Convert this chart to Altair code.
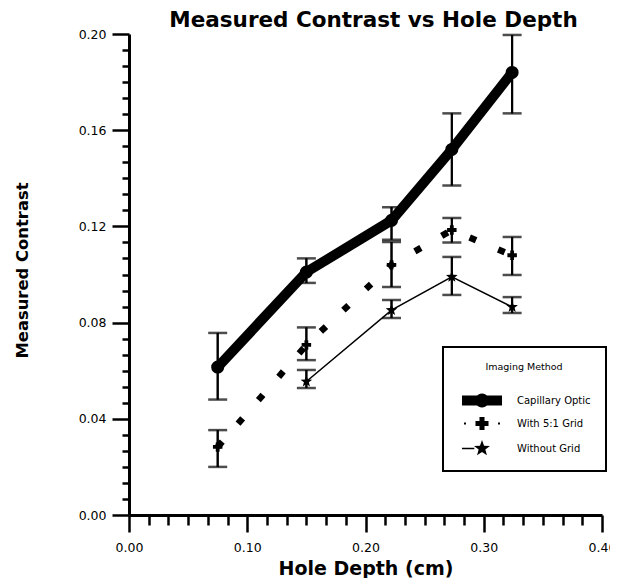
import math
import altair as alt
import pandas as pd

# ---- data ----
series_names = ["Capillary Optic", "With 5:1 Grid", "Without Grid"]

cap_depth = [0.075, 0.150, 0.222, 0.273, 0.324]
cap_mean = [0.0615, 0.1010, 0.1225, 0.1520, 0.1840]
cap_lo = [0.0480, 0.0965, 0.1145, 0.1370, 0.1670]
cap_hi = [0.0757, 0.1067, 0.1280, 0.1670, 0.1996]

grid_depth = [0.075, 0.150, 0.222, 0.273, 0.324]
grid_mean = [0.0283, 0.0707, 0.1040, 0.1185, 0.1080]
grid_lo = [0.0200, 0.0644, 0.0948, 0.1133, 0.0998]
grid_hi = [0.0353, 0.0780, 0.1135, 0.1235, 0.1156]

nogrid_depth = [0.150, 0.222, 0.273, 0.324]
nogrid_mean = [0.0555, 0.0852, 0.0990, 0.0865]
nogrid_lo = [0.0528, 0.0819, 0.0915, 0.0840]
nogrid_hi = [0.0603, 0.0894, 0.1073, 0.0906]

x_major_ticks = [0.0, 0.1, 0.2, 0.3, 0.4]
x_minor_ticks = [round(i / 60, 6) for i in range(25) if i % 6]
y_major_ticks = [0.0, 0.04, 0.08, 0.12, 0.16, 0.20]
y_minor_ticks = [round(i * 0.04 / 6, 6) for i in range(31) if i % 6]

def frame(name, d, m, lo, hi):
    return pd.DataFrame({"series": name, "depth": d, "mean": m, "lo": lo, "hi": hi})

df = pd.concat([
    frame(series_names[0], cap_depth, cap_mean, cap_lo, cap_hi),
    frame(series_names[1], grid_depth, grid_mean, grid_lo, grid_hi),
    frame(series_names[2], nogrid_depth, nogrid_mean, nogrid_lo, nogrid_hi),
], ignore_index=True)

caps = pd.concat([
    df[["series", "depth"]].assign(v=df["lo"]),
    df[["series", "depth"]].assign(v=df["hi"]),
], ignore_index=True)

# ---- symbol paths (legend unit = 7 px) ----
def num(v):
    s = f"{v:.3f}".rstrip("0").rstrip(".")
    return "0" if s in ("-0", "") else s

def poly(pts):
    return "M" + "L".join(f"{num(x)} {num(y)}" for x, y in pts)

def rect(x0, y0, x1, y1):
    return poly([(x0, y0), (x1, y0), (x1, y1), (x0, y1), (x0, y0)])

def circle(r, n=24):
    return poly([(r * math.cos(2 * math.pi * k / n), r * math.sin(2 * math.pi * k / n)) for k in range(n + 1)])

def star(R, ri):
    pts = []
    for k in range(11):
        ang = -math.pi / 2 + k * math.pi / 5
        rad = R if k % 2 == 0 else ri
        pts.append((rad * math.cos(ang), rad * math.sin(ang)))
    return poly(pts)

def plus(a, t):
    return poly([(-t, -a), (t, -a), (t, -t), (a, -t), (a, t), (t, t), (t, a), (-t, a),
                 (-t, t), (-a, t), (-a, -t), (-t, -t), (-t, -a)])

cap_path = rect(-2.86, -0.71, 2.86, 0.71) + circle(1.0)
grid_path = plus(0.93, 0.36) + rect(-2.57, -0.14, -2.29, 0.14) + rect(2.29, -0.14, 2.57, 0.14)
nogrid_path = rect(-2.86, -0.1, -1.1, 0.1) + star(1.2, 0.5)
star_marker = star(1.0, 0.42)

FONT = "DejaVu Sans"

x_scale = alt.Scale(domain=[0, 0.4], nice=False, zero=False)
y_scale = alt.Scale(domain=[0, 0.2], nice=False, zero=False)

x_axis = alt.Axis(
    orient="bottom", values=x_major_ticks, format=".2f",
    tickSize=17, tickWidth=2.5, tickColor="black", domainWidth=3, domainColor="black",
    labelFont=FONT, labelFontSize=12.5, labelColor="black", labelPadding=9,
    labelOverlap=False, labelFlush=False, grid=False,
    title="Hole Depth (cm)", titleFont=FONT, titleFontSize=19, titleFontWeight="bold",
    titleColor="black", titleBaseline="alphabetic", titleY=59,
)
y_axis = alt.Axis(
    orient="left", values=y_major_ticks, format=".2f",
    tickSize=17, tickWidth=2.5, tickColor="black", domainWidth=3, domainColor="black",
    labelFont=FONT, labelFontSize=12.5, labelColor="black", labelPadding=6,
    labelOverlap=False, labelFlush=False, grid=False,
    title="Measured Contrast", titleFont=FONT, titleFontSize=16.4, titleFontWeight="bold",
    titleColor="black", titleBaseline="alphabetic", titleX=-102, titleY=236, titleAngle=270,
)
x_minor_axis = alt.Axis(
    orient="bottom", values=x_minor_ticks, tickSize=10, tickWidth=2.5, tickColor="black",
    labels=False, domain=False, grid=False, title=None,
)
y_minor_axis = alt.Axis(
    orient="left", values=y_minor_ticks, tickSize=7, tickWidth=2.5, tickColor="black",
    labels=False, domain=False, grid=False, title=None,
)

base = alt.Chart(df)

rules = base.mark_rule(color="black", strokeWidth=2).encode(
    x=alt.X("depth:Q", scale=x_scale, axis=x_axis),
    y=alt.Y("lo:Q", scale=y_scale, axis=y_axis),
    y2="hi:Q",
)
minor = base.mark_rule(color="black", strokeWidth=2).encode(
    x=alt.X("depth:Q", scale=x_scale, axis=x_minor_axis),
    y=alt.Y("lo:Q", scale=y_scale, axis=y_minor_axis),
    y2="hi:Q",
)
cap_ticks = alt.Chart(caps).mark_tick(color="black", orient="horizontal", size=19, thickness=2.5).encode(
    x=alt.X("depth:Q", axis=None), y=alt.Y("v:Q", axis=None)
)

def series_line(name, **kw):
    return base.transform_filter(alt.datum.series == name).mark_line(color="black", **kw).encode(
        x=alt.X("depth:Q", axis=None), y=alt.Y("mean:Q", axis=None)
    )

def series_pts(name, shape, size):
    return base.transform_filter(alt.datum.series == name).mark_point(
        shape=shape, size=size, filled=True, color="black", opacity=1
    ).encode(x=alt.X("depth:Q", axis=None), y=alt.Y("mean:Q", axis=None))

line_cap = series_line(series_names[0], strokeWidth=10, strokeJoin="round", strokeCap="round")
line_grid = series_line(series_names[1], strokeWidth=6.5, strokeDash=[7, 24], strokeCap="butt")
line_nogrid = series_line(series_names[2], strokeWidth=1.5)

pts_cap = series_pts(series_names[0], "circle", 170)
pts_grid = series_pts(series_names[1], "cross", 90)
pts_nogrid = series_pts(series_names[2], star_marker, 150)

legend_layer = base.mark_point(filled=True, opacity=0, color="black", size=196).encode(
    x=alt.X("depth:Q", axis=None),
    y=alt.Y("mean:Q", axis=None),
    shape=alt.Shape(
        "series:N",
        scale=alt.Scale(domain=series_names, range=[cap_path, grid_path, nogrid_path]),
        legend=alt.Legend(
            orient="none", legendX=314, legendY=313,
            title="Imaging Method", titleFont=FONT, titleFontSize=9.5, titleFontWeight="normal",
            titleColor="black", titleAnchor="middle", titlePadding=22,
            labelFont=FONT, labelFontSize=10, labelColor="black", labelOffset=28,
            padding=15, strokeColor="black", fillColor="white",
            symbolSize=196, symbolFillColor="black", symbolStrokeWidth=0, symbolOpacity=1,
            symbolOffset=17, rowPadding=9,
        ),
    ),
)

chart = alt.layer(
    rules, minor, cap_ticks, line_grid, line_nogrid, line_cap, pts_grid, pts_nogrid, pts_cap, legend_layer
).resolve_axis(x="independent", y="independent").properties(
    width=473, height=481,
    autosize=alt.AutoSizeParams(type="none"),
    padding={"left": 121, "top": 26, "right": 8, "bottom": 63},
    background="white",
    title=alt.TitleParams(
        "Measured Contrast vs Hole Depth", font=FONT, fontSize=21.5, fontWeight="bold",
        color="black", anchor="middle", frame="group", dx=8, dy=3, offset=0,
    ),
).configure_view(stroke=None).configure_legend(strokeWidth=2)

chart.save("out.html", embed_options={"renderer": "svg", "actions": False})
